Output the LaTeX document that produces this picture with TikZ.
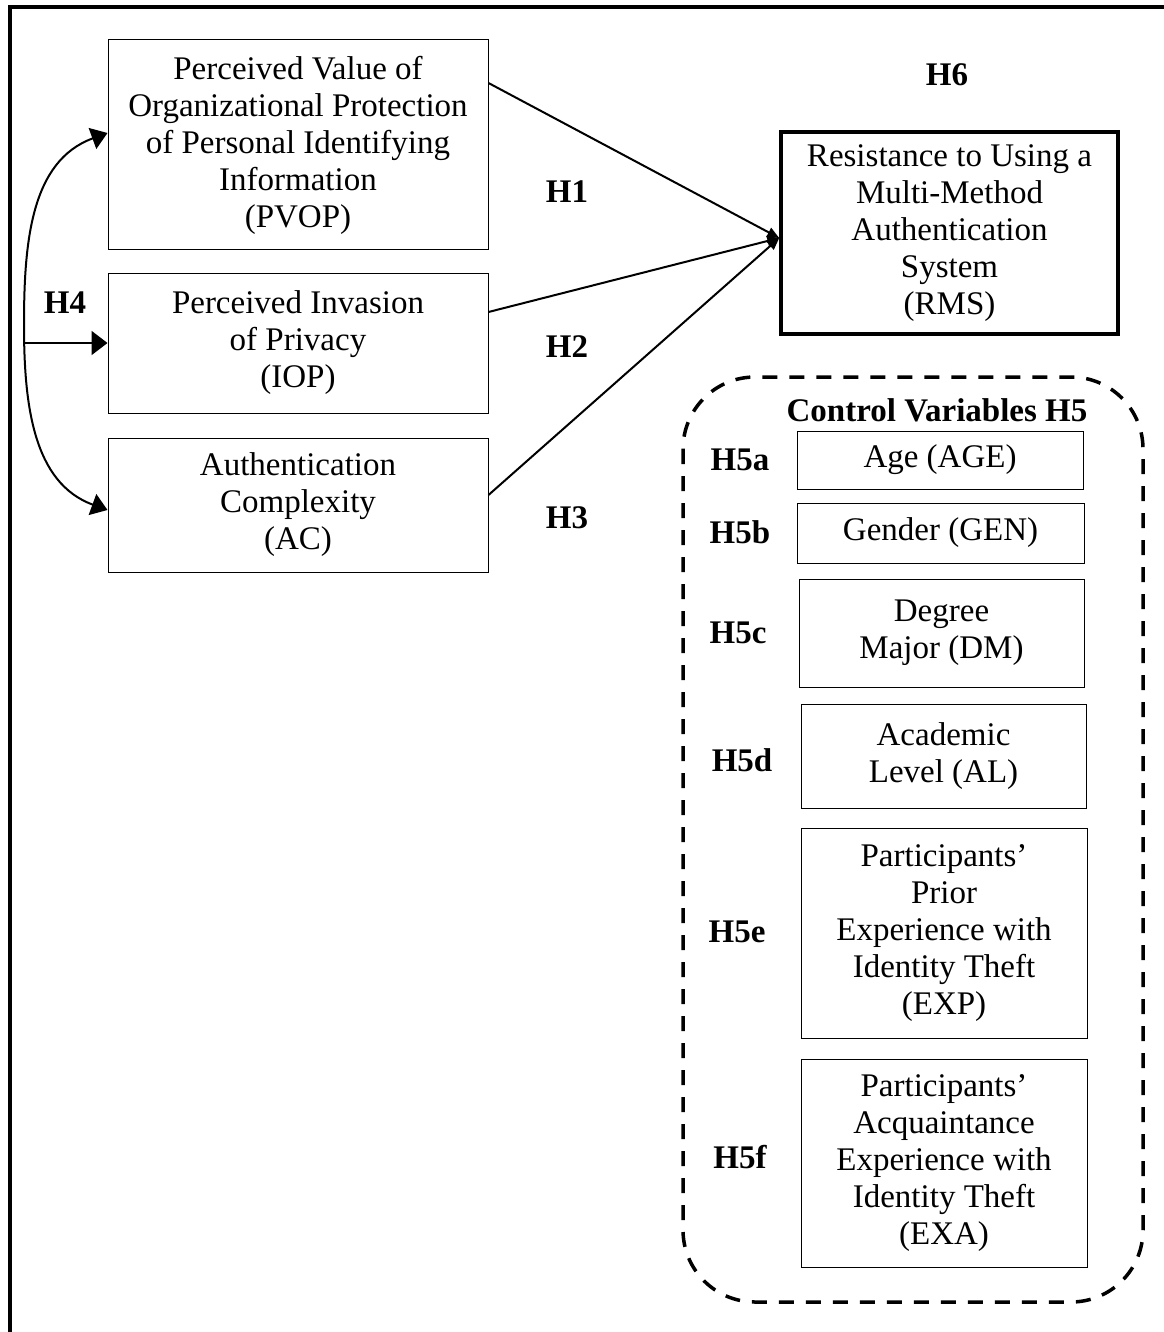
\documentclass[tikz,border=0pt]{standalone}
\usepackage{fontspec}
\setmainfont{Liberation Serif}
\usetikzlibrary{arrows.meta}
\usetikzlibrary{positioning}

\begin{document}
\begin{tikzpicture}[x=0.5pt,y=-0.5pt,
    every node/.style={font=\fontsize{16.5}{18.5}\selectfont},
    var/.style={draw, line width=0.5pt, align=center, inner sep=0pt},
    hyp/.style={font=\fontsize{16.5}{18.5}\selectfont\bfseries, inner sep=0pt},
    effect/.style={line width=1pt, -{Triangle[length=6pt,width=5pt]}},
    corr/.style={line width=1pt, {Triangle[length=8pt,width=11pt]}-{Triangle[length=8pt,width=11pt]}}]
    \useasboundingbox (0,0) rectangle (1163,1332);
    % frame
    \draw[line width=2pt] (10,1345) -- (10,7) -- (1175,7);

    % independent variables
    \node[var, minimum width=190pt, minimum height=105pt] (pvop) at (298,145)
        {Perceived Value of\\Organizational Protection\\of Personal Identifying\\Information\\(PVOP)};
    \node[var, minimum width=190pt, minimum height=70pt] (iop) at (298,343)
        {Perceived Invasion\\of Privacy\\(IOP)};
    \node[var, minimum width=190pt, minimum height=67pt] (ac) at (298,505)
        {Authentication\\Complexity\\(AC)};

    % dependent variable
    \node[var, line width=1.75pt, minimum width=168.5pt, minimum height=101pt] (rms) at (949.5,233)
        {Resistance to Using a\\Multi-Method\\Authentication\\System\\(RMS)};

    \coordinate (tip) at ([yshift=-2.5pt]rms.west);
    \draw[effect] ([yshift=31pt]pvop.east) -- (tip);
    \draw[effect] ([yshift=15.5pt]iop.east) -- (tip);
    \draw[effect] ([yshift=5pt]ac.east) -- (tip);

    \coordinate (hub) at (24,325);
    \draw[corr] ([yshift=6pt]pvop.west) to[out=200,in=90] (hub) to[out=-90,in=160] ([yshift=-2.5pt]ac.west);
    \draw[line width=1pt, -{Triangle[length=8pt,width=12pt]}] (hub |- iop.west) -- (iop.west);

    \node[hyp] (h1) at (567,192) {H1};
    \node[hyp] (h2) at (567,347) {H2};
    \node[hyp] (h3) at (567,518) {H3};
    \node[hyp] (h4) at (65,303) {H4};
    \node[hyp] (h6) at (947,75) {H6};

    % control variables
    \draw[line width=1.75pt, dash pattern=on 7.5pt off 6pt, rounded corners=36pt]
        (683,377) rectangle (1143,1302);
    \node[hyp] (ctrl) at (937,410) {Control Variables H5};

    \node[var, minimum width=143pt, minimum height=29pt] (age) at (940,460) {Age (AGE)};
    \node[var, minimum width=143.5pt, minimum height=30pt] (gen) at (940.5,533) {Gender (GEN)};
    \node[var, minimum width=142.5pt, minimum height=54pt] (dm) at (941.5,633) {Degree\\Major (DM)};
    \node[var, minimum width=142.5pt, minimum height=52pt] (al) at (943.5,756) {Academic\\Level (AL)};
    \node[var, minimum width=143pt, minimum height=105pt] (exp) at (944,933)
        {Participants’\\Prior\\Experience with\\Identity Theft\\(EXP)};
    \node[var, minimum width=143pt, minimum height=104pt] (exa) at (944,1163)
        {Participants’\\Acquaintance\\Experience with\\Identity Theft\\(EXA)};

    \node[hyp] (h5a) at (740,460) {H5a};
    \node[hyp] (h5b) at (740,532) {H5b};
    \node[hyp] (h5c) at (738,633) {H5c};
    \node[hyp] (h5d) at (742,760) {H5d};
    \node[hyp] (h5e) at (737,932) {H5e};
    \node[hyp] (h5f) at (740,1157) {H5f};
\end{tikzpicture}
\end{document}
